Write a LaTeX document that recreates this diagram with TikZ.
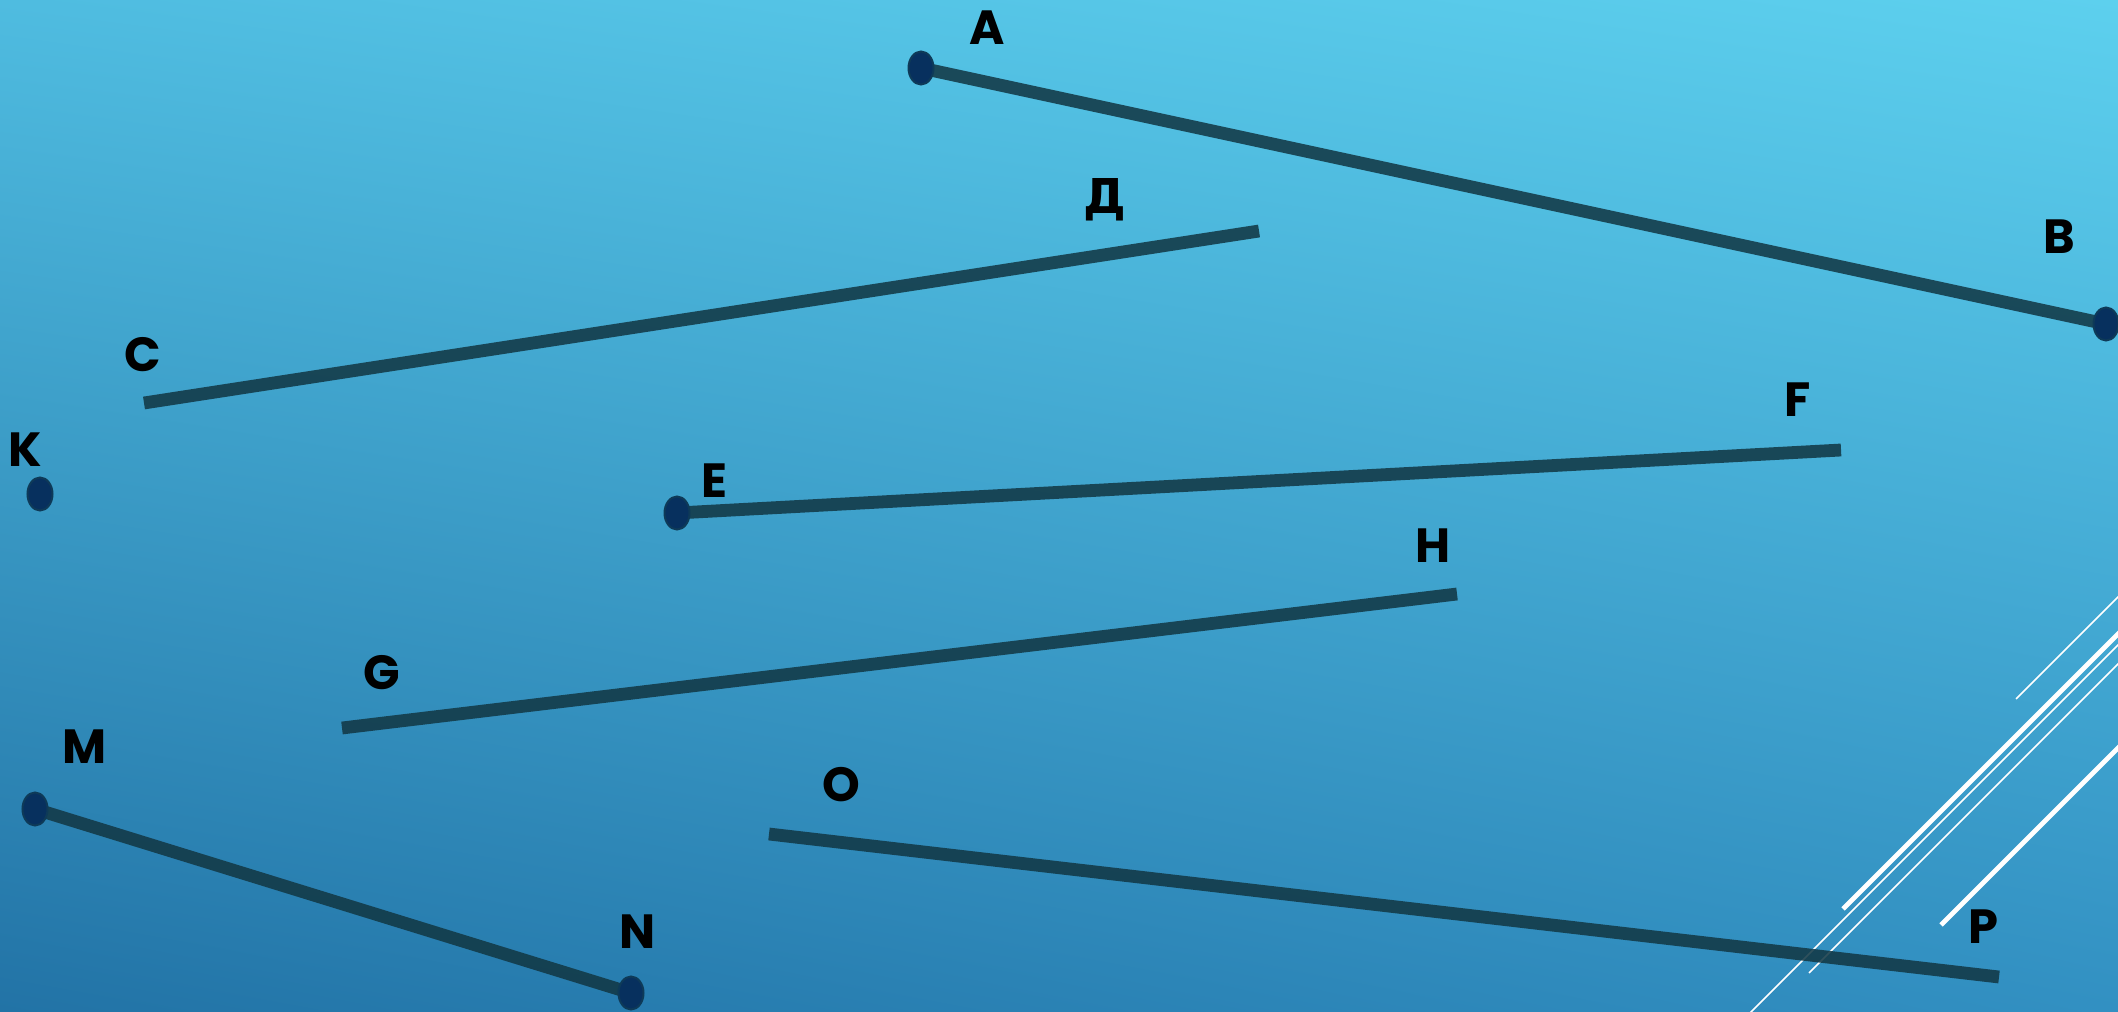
\documentclass[tikz,border=0pt]{standalone}
\usepackage{fontspec}
\setmainfont{Poppins}
\newfontfamily\cyrfont{DejaVu Sans}
\usetikzlibrary{shapes.geometric,shadings}
\definecolor{bgTL}{HTML}{4FBCE0}
\definecolor{bgTR}{HTML}{5DD0EE}
\definecolor{bgBL}{HTML}{2273A6}
\definecolor{bgBR}{HTML}{3290C2}
\definecolor{segc}{HTML}{123845}
\definecolor{ptfill}{HTML}{07305E}
\definecolor{ptdraw}{HTML}{0E3A58}
\begin{document}
\begin{tikzpicture}[x=0.5pt,y=-0.5pt,
  seg/.style={line width=6.4pt, draw=segc, draw opacity=0.87},
  pt/.style={ellipse, fill=ptfill, draw=ptdraw, line width=1pt, minimum width=12.5pt, minimum height=16.5pt, inner sep=0pt},
  lbl/.style={font=\bfseries\fontsize{24}{29}\selectfont, text=black, inner sep=0pt},
  wthick/.style={draw=white, line width=2.4pt},
  wthin/.style={draw=white, line width=0.75pt}]
\useasboundingbox (0,0) rectangle (2118,1011);
\shade[upper left=bgTL, upper right=bgTR, lower left=bgBL, lower right=bgBR] (0,0) rectangle (2118,1011);
% decorative white lines
\begin{scope}
\clip (0,0) rectangle (2118,1011);
\coordinate (w1a) at (1843,909); \coordinate (w1b) at (2140,612);
\coordinate (w2a) at (1740,1023); \coordinate (w2b) at (2140,623);
\coordinate (w3a) at (1809,973); \coordinate (w3b) at (2140,642);
\coordinate (w4a) at (2016,699); \coordinate (w4b) at (2140,575);
\coordinate (w5a) at (1941,925); \coordinate (w5b) at (2140,726);
\draw[wthick] (w1a) -- (w1b);
\draw[wthin] (w2a) -- (w2b);
\draw[wthin] (w3a) -- (w3b);
\draw[wthin] (w4a) -- (w4b);
\draw[wthick] (w5a) -- (w5b);
\end{scope}
% point positions
\coordinate (cA) at (921,68);
\coordinate (cB) at (2106,324);
\coordinate (cK) at (40,494);
\coordinate (cE) at (677,513);
\coordinate (cM) at (35,809);
\coordinate (cN) at (631,993);
% free segment ends
\coordinate (dC) at (144,403);
\coordinate (dD) at (1259,231);
\coordinate (eF) at (1841,450);
\coordinate (gG) at (342,728);
\coordinate (gH) at (1457,594);
\coordinate (oO) at (769,834);
\coordinate (oP) at (1999,977);
% segments
\draw[seg] (cA) -- (cB);
\draw[seg] (dC) -- (dD);
\draw[seg] (cE) -- (eF);
\draw[seg] (gG) -- (gH);
\draw[seg] (cM) -- (cN);
\draw[seg] (oO) -- (oP);
% points
\node[pt] (A) at (cA) {};
\node[pt] (B) at (cB) {};
\node[pt] (K) at (cK) {};
\node[pt] (E) at (cE) {};
\node[pt] (M) at (cM) {};
\node[pt] (N) at (cN) {};
% labels
\node[lbl] (lA) at (987,28) {A};
\node[lbl] (lB) at (2059,237) {B};
\node[lbl] (lD) at (1105,200) {\cyrfont Д};
\node[lbl] (lC) at (143,355) {C};
\node[lbl] (lK) at (25,450) {K};
\node[lbl] (lE) at (714,481) {E};
\node[lbl] (lF) at (1798,400) {F};
\node[lbl] (lH) at (1433,546) {H};
\node[lbl] (lG) at (382,673) {G};
\node[lbl] (lM) at (85,747) {M};
\node[lbl] (lN) at (638,932) {N};
\node[lbl] (lO) at (841,785) {O};
\node[lbl] (lP) at (1983,927) {P};
\end{tikzpicture}
\end{document}
